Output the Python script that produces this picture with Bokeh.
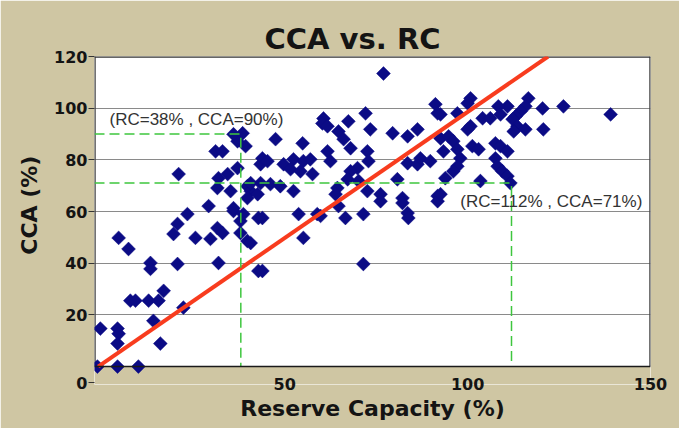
from bokeh.plotting import figure
from bokeh.models import Range1d, Label, Span, BoxAnnotation, ColumnDataSource, Title
from bokeh.embed import file_html
from bokeh.resources import INLINE

# ---- data ----
rc = [-1.2, -0.4, 4.3, 4.6, 4.3, 4.3, 10.0, 4.6, 7.3, 7.8, 9.2, 12.8, 15.5, 16.9, 13.3, 13.3,
      14.1, 16.0, 22.3, 20.7, 19.6, 20.7, 23.4, 25.6, 29.2, 29.7, 31.6, 33.0, 31.9, 36.0, 37.9,
      39.8, 42.8, 42.8, 37.9, 21.0, 31.1, 33.0, 37.1, 36.0, 38.5, 39.3, 37.1, 31.9, 34.4, 31.6,
      35.2, 39.8, 40.7, 39.8, 43.4, 36.0, 38.7, 77.0, 60.6, 60.3, 61.7, 67.4, 72.1, 73.4, 64.7,
      66.1, 68.0, 79.5, 83.6, 86.3, 91.2, 91.8, 92.6, 47.5, 54.9, 61.7, 62.5, 43.9, 45.3, 49.7,
      52.4, 55.1, 57.0, 51.6, 54.3, 57.6, 72.6, 72.9, 69.9, 68.0, 67.2, 70.2, 64.4, 63.9, 72.6,
      76.2, 82.2, 83.6, 80.8, 83.6, 86.3, 87.1, 89.8, 91.8, 40.7, 43.4, 46.1, 48.8, 52.4, 42.6,
      53.8, 58.9, 71.5, 43.9, 59.8, 64.7, 66.6, 83.8, 55.1, 40.7, 43.9, 71.5, 76.2, 82.2, 91.8,
      139.1, 126.2, 120.5, 120.7, 116.6, 115.8, 114.5, 113.1, 112.3, 113.6, 115.8, 112.6, 110.9,
      108.4, 109.0, 100.8, 100.0, 97.2, 104.1, 106.2, 100.8, 100.0, 94.8, 96.1, 97.2, 101.3,
      103.0, 107.6, 109.0, 110.9, 107.6, 98.0, 97.2, 96.1, 108.2, 109.5, 110.9, 93.9, 103.5,
      111.7, 92.6, 93.4, 92.6]
cca = [0.0, 14.7, 14.7, 12.7, 8.9, 0.0, 0.0, 49.8, 45.5, 25.5, 25.5, 25.5, 25.5, 29.3, 40.1, 37.8,
       17.7, 8.9, 22.8, 39.7, 51.3, 55.2, 59.0, 49.8, 62.1, 49.4, 53.6, 51.7, 40.1, 60.2, 51.7,
       48.6, 37.0, 57.5, 56.3, 74.5, 83.3, 83.3, 87.2, 89.9, 90.3, 85.3, 76.8, 72.9, 74.5, 69.1,
       67.9, 69.8, 67.9, 65.2, 78.3, 61.3, 59.0, 113.4, 96.0, 94.1, 93.0, 94.9, 98.0, 91.8, 91.0,
       88.0, 84.5, 90.3, 89.1, 91.8, 101.5, 98.0, 88.3, 88.0, 86.4, 83.3, 79.5, 80.6, 79.5, 78.3,
       80.2, 79.5, 80.2, 76.4, 75.6, 74.5, 83.3, 79.5, 76.8, 75.6, 72.5, 71.8, 69.1, 66.7, 67.9,
       66.7, 65.2, 59.4, 72.5, 78.7, 78.3, 80.6, 79.5, 66.0, 71.0, 71.0, 70.6, 69.8, 67.9, 66.7,
       59.0, 59.0, 59.0, 57.5, 58.3, 62.1, 57.5, 57.5, 49.8, 47.8, 37.0, 39.7, 64.0, 63.3, 64.0,
       97.6, 100.7, 99.9, 91.8, 103.8, 100.7, 98.8, 96.8, 95.7, 93.0, 91.8, 91.0, 100.7,
       100.7, 97.6, 103.8, 101.9, 98.0, 96.1, 96.1, 93.0, 91.8, 89.1, 87.2, 84.1, 85.3,
       84.1, 86.4, 85.3, 83.3, 80.6, 80.6, 77.5, 75.6, 77.5, 75.6, 73.7, 72.9, 71.8,
       71.0, 66.7, 83.3, 97.6]

trend_rc = [-1.0, 122.0]
trend_cca = [0.0, 120.0]

mark_rc = [38, 112]
mark_cca = [90, 71]
mark_text = ["(RC=38% , CCA=90%)", "(RC=112% , CCA=71%)"]

x_ticks = [50, 100, 150]
y_ticks = [20, 40, 60, 80, 100, 120]
corner_zero = -6.2          # the single shared "0" label sits below the corner

TAN = "#cfc6a3"
INK = "#141414"
HUM = "DejaVu Sans"

p = figure(width=679, height=428,
           min_border_left=94, min_border_right=29, min_border_top=55, min_border_bottom=44,
           x_range=Range1d(-2, 150), y_range=Range1d(-6.94, 120),
           output_backend="svg", toolbar_location=None,
           styles={"outline": "3px solid black", "outline-offset": "-10px"})
p.background_fill_color = "white"
p.border_fill_color = TAN
p.outline_line_color = None

# outermost title slot used as a blank spacer, real title just below it
p.title.text = "\u00a0"
p.title.text_font_size = "14px"
p.title.standoff = 0
p.add_layout(Title(text="CCA vs. RC", align="left", offset=170, standoff=2,
                   text_font=HUM, text_font_style="bold", text_font_size="29px",
                   text_color=INK), "above")

# axes
p.yaxis.ticker = [corner_zero] + y_ticks
p.yaxis.major_label_overrides = {corner_zero: "0"}
p.xaxis.ticker = x_ticks
for ax in (p.xaxis[0], p.yaxis[0]):
    ax.axis_line_color = None
    ax.minor_tick_line_color = None
    ax.major_tick_in = 0
    ax.major_tick_line_color = "#333333"
    ax.major_label_text_font = HUM
    ax.major_label_text_font_style = "bold"
    ax.major_label_text_font_size = "16px"
    ax.major_label_text_color = INK
    ax.axis_label_text_font = HUM
    ax.axis_label_text_font_style = "bold"
    ax.axis_label_text_color = INK
    ax.axis_label_text_font_size = "22px"
p.yaxis.major_tick_out = 6
p.yaxis.major_label_standoff = 1
p.xaxis.major_tick_out = 0
p.xaxis.major_label_standoff = -7
p.yaxis.axis_label = "\u00a0\u00a0\u00a0\u00a0CCA (%)"
p.yaxis.axis_label_standoff = 9
p.xaxis.axis_label = "Reserve Capacity (%)"
p.xaxis.axis_label_standoff = 3

p.xgrid.grid_line_color = None
p.ygrid.ticker = y_ticks[:-1]
p.ygrid.grid_line_color = "#8a8a8a"
p.ygrid.grid_line_width = 1

# region below zero painted like the border
p.add_layout(BoxAnnotation(top=0, fill_color=TAN, fill_alpha=1, line_color=None, level="underlay"))

# frame lines
p.add_layout(Span(location=0, dimension="width", line_color="#1a1a1a", line_width=1.5))
p.line([-2, -2], [0, 120], line_color="#444444", line_width=2.5)
p.line([150, 150], [0, 120], line_color="#444444", line_width=2.5)
p.line([-2, 150], [120, 120], line_color="#333333", line_width=2.5)

src = ColumnDataSource(dict(rc=rc, cca=cca))
p.scatter("rc", "cca", source=src, marker="square", angle=0.785398, size=9.8,
          fill_color="#0b0b85", line_color="#0b0b85", line_width=0.5)

p.line(trend_rc, trend_cca, line_color="#f83c1e", line_width=4)

for r, c in zip(mark_rc, mark_cca):
    p.line([-2, r, r], [c, c, 0], line_color="#3ec63e", line_width=1.5, line_dash="10 5")

p.add_layout(Label(x=2.1, y=95.7, text=mark_text[0], text_font="Liberation Sans",
                   text_font_size="17px", text_color="#333333", text_baseline="middle"))
p.add_layout(Label(x=98.0, y=64.0, text=mark_text[1], text_font="Liberation Sans",
                   text_font_size="17px", text_color="#333333", text_baseline="middle"))

open("out.html", "w").write(file_html(p, INLINE))
